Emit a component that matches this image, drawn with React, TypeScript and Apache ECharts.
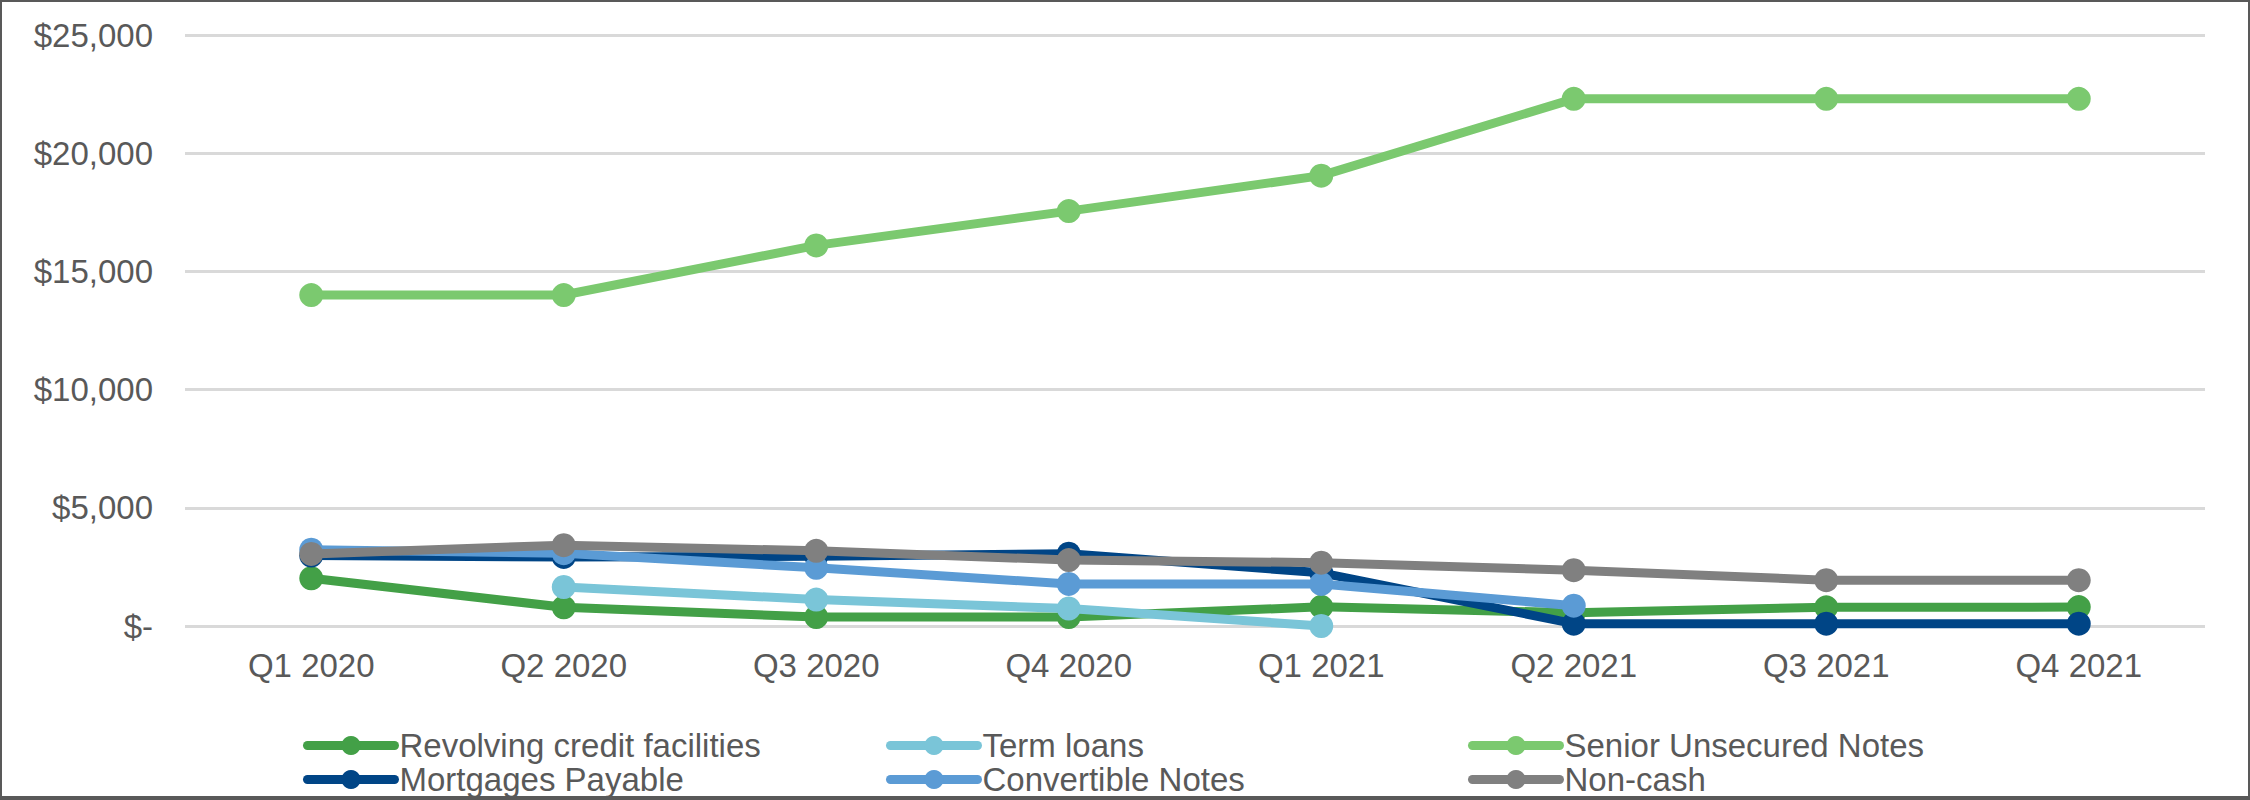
import React, { useEffect, useRef } from "react";
import * as echarts from "echarts";

const categories = ["Q1 2020", "Q2 2020", "Q3 2020", "Q4 2020", "Q1 2021", "Q2 2021", "Q3 2021", "Q4 2021"];
const revolving = [2020, 790, 380, 380, 810, 560, 790, 800];
const termLoans = [null, 1650, 1120, 740, 0, null, null, null];
const seniorNotes = [14000, 14000, 16100, 17550, 19050, 22300, 22300, 22300];
const mortgages = [2980, 2920, 2950, 3060, 2250, 100, 100, 100];
const convertible = [3230, 3080, 2460, 1780, 1780, 860, null, null];
const nonCash = [3050, 3420, 3180, 2790, 2680, 2360, 1940, 1940];

const seriesNames = [
  "Revolving credit facilities",
  "Term loans",
  "Senior Unsecured Notes",
  "Mortgages Payable",
  "Convertible Notes",
  "Non-cash",
];
const seriesData = [revolving, termLoans, seniorNotes, mortgages, convertible, nonCash];
const colors = ["#43A047", "#7AC5D8", "#7BC96F", "#004586", "#5B9BD5", "#808080"];

// legend slots: [left, top]
const legendPos: [number, number][] = [
  [303, 729],
  [886, 729],
  [1468, 729],
  [303, 763],
  [886, 763],
  [1468, 763],
];

const FONT = "'Liberation Sans', Arial, sans-serif";

export default function App() {
  const ref = useRef<HTMLDivElement>(null);
  useEffect(() => {
    document.body.style.margin = "0";
    const chart = echarts.init(ref.current!, null, { renderer: "svg" });
    chart.setOption({
      animation: false,
      backgroundColor: "#ffffff",
      grid: { left: 185, right: 45, top: 35, bottom: 174, containLabel: false },
      xAxis: {
        type: "category",
        data: categories,
        boundaryGap: true,
        axisLine: { show: false },
        axisTick: { show: false },
        axisLabel: { color: "#595959", fontSize: 33, fontFamily: FONT, margin: 23 },
      },
      yAxis: {
        type: "value",
        min: 0,
        max: 25000,
        interval: 5000,
        axisLine: { show: false },
        axisTick: { show: false },
        splitLine: { lineStyle: { color: "#D9D9D9", width: 3 } },
        axisLabel: {
          color: "#595959",
          fontSize: 33,
          fontFamily: FONT,
          margin: 32,
          formatter: (v: number) => (v === 0 ? "$-" : "$" + v.toLocaleString("en-US")),
        },
      },
      legend: seriesNames.map((name, i) => ({
        data: [name],
        left: legendPos[i][0],
        top: legendPos[i][1],
        padding: 0,
        itemWidth: 87,
        itemHeight: 24,
        selectedMode: false,
        textStyle: { color: "#595959", fontSize: 33, fontFamily: FONT },
        lineStyle: { width: 9, cap: "round" },
      })),
      series: seriesNames.map((name, i) => ({
        name,
        type: "line",
        data: seriesData[i],
        symbol: "circle",
        symbolSize: 24,
        connectNulls: false,
        lineStyle: { color: colors[i], width: 9, cap: "round", join: "round" },
        itemStyle: { color: colors[i] },
        z: 2 + i,
      })),
    });
    return () => chart.dispose();
  }, []);
  return (
    <div style={{ position: "relative", width: 2250, height: 800 }}>
      <div ref={ref} style={{ position: "absolute", left: 0, top: 0, width: 2250, height: 800 }} />
      <div
        style={{
          position: "absolute",
          left: 0,
          top: 0,
          width: 2250,
          height: 800,
          boxSizing: "border-box",
          borderStyle: "solid",
          borderColor: "#595959",
          borderWidth: "2px 2px 4px 2px",
          pointerEvents: "none",
        }}
      />
    </div>
  );
}
